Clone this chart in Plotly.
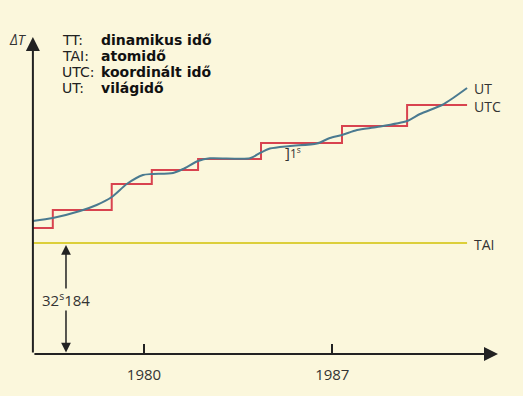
import plotly.graph_objects as go

# ---- data (years on x, arbitrary ΔT units on y) ----
utc_step_years = [1975.87, 1976.61, 1978.80, 1980.29, 1982.01, 1984.35, 1987.36, 1989.78, 1992.01]
utc_levels = [12.6, 14.4, 17.0, 18.4, 19.5, 21.1, 22.8, 24.9, 24.9]

ut_years = [1975.87, 1976.61, 1977.62, 1978.24, 1978.80, 1979.36, 1979.96, 1980.30, 1981.08,
            1981.45, 1982.01, 1982.45, 1983.94, 1984.31, 1984.68, 1985.43, 1986.43, 1986.91,
            1987.36, 1987.92, 1988.66, 1989.78, 1990.26, 1991.08, 1991.49, 1992.01]
ut_values = [13.3, 13.6, 14.3, 14.9, 15.7, 17.0, 17.9, 18.0, 18.1,
             18.5, 19.3, 19.57, 19.57, 20.1, 20.55, 20.8, 21.05, 21.6,
             21.9, 22.4, 22.7, 23.3, 24.0, 24.9, 25.6, 26.6]

tai_years = [1975.87, 1992.01]
tai_value = 11.1

tick_years = [1980, 1987]
tick_labels = ["1980", "1987"]

legend_abbr = ["TT:", "TAI:", "UTC:", "UT:"]
legend_desc = ["dinamikus idő", "atomidő", "koordinált idő", "világidő"]

BG = "#FBF7DC"
RED = "#D8434F"
BLUE = "#4A7A90"
YELLOW = "#DCCF3A"
INK = "#222222"

x_origin = utc_step_years[0]
x_end = 1993.16
y_top = 31.7

fig = go.Figure()
fig.add_trace(go.Scatter(x=tai_years, y=[tai_value] * len(tai_years), mode="lines",
                         line=dict(color=YELLOW, width=2), hoverinfo="skip"))
fig.add_trace(go.Scatter(x=utc_step_years, y=utc_levels, mode="lines",
                         line=dict(color=RED, width=2, shape="hv"), hoverinfo="skip"))
fig.add_trace(go.Scatter(x=ut_years, y=ut_values, mode="lines",
                         line=dict(color=BLUE, width=2, shape="spline", smoothing=0.7),
                         hoverinfo="skip"))

W, H_plot = 523, 354
ann = []
# axes arrows
ann.append(dict(x=x_end, y=0, ax=x_origin, ay=0, xref="x", yref="y", axref="x", ayref="y",
                text="", showarrow=True, arrowhead=2, arrowsize=1.4, arrowwidth=2, arrowcolor=INK))
ann.append(dict(x=x_origin, y=y_top, ax=x_origin, ay=0, xref="x", yref="y", axref="x", ayref="y",
                text="", showarrow=True, arrowhead=2, arrowsize=1.4, arrowwidth=2, arrowcolor=INK))
# 32.184 double arrow
arr_x = 1977.10
ann.append(dict(x=arr_x, y=tai_value - 0.2, ax=arr_x, ay=0, xref="x", yref="y", axref="x", ayref="y",
                text="", showarrow=True, arrowhead=2, startarrowhead=2, arrowside="end+start",
                arrowsize=1.3, startarrowsize=1.3, arrowwidth=1.5, arrowcolor=INK))
ann.append(dict(x=arr_x, y=5.5, xref="x", yref="y", text="32<sup>s</sup>184", showarrow=False,
                font=dict(family="Open Sans", size=15, color="#333"), bgcolor=BG, borderpad=0))
# axis labels
ann.append(dict(x=18 / W, y=1 - 40 / H_plot, xref="paper", yref="paper", text="<i>ΔT</i>",
                showarrow=False, xanchor="center", yanchor="middle",
                font=dict(family="Open Sans", size=14, color="#333")))
ann.append(dict(x=x_end - 0.1, y=-1.9, xref="x", yref="y", text="<i>TT</i>", showarrow=False,
                font=dict(family="Open Sans", size=15, color="#333")))
# series labels
ann.append(dict(x=1992.2, y=26.6, xref="x", yref="y", text="UT", showarrow=False, xanchor="left",
                font=dict(family="Open Sans", size=14, color="#333")))
ann.append(dict(x=1992.2, y=24.8, xref="x", yref="y", text="UTC", showarrow=False, xanchor="left",
                font=dict(family="Open Sans", size=14, color="#333")))
ann.append(dict(x=1992.2, y=tai_value - 0.15, xref="x", yref="y", text="TAI", showarrow=False,
                xanchor="left", font=dict(family="Open Sans", size=14, color="#333")))
ann.append(dict(x=1985.55, y=20.2, xref="x", yref="y", text="<span style='font-size:15px'>]</span>1<sup>s</sup>",
                showarrow=False, font=dict(family="Open Sans", size=12, color="#333")))

# legend block
for i, (a, d) in enumerate(zip(legend_abbr, legend_desc)):
    ypx = 40 + i * 16
    ann.append(dict(x=60 / W, y=1 - ypx / H_plot, xref="paper", yref="paper", text=a,
                    showarrow=False, xanchor="left", yanchor="middle",
                    font=dict(family="DejaVu Sans", size=14, color="#222")))
    ann.append(dict(x=99 / W, y=1 - ypx / H_plot, xref="paper", yref="paper", text=d,
                    showarrow=False, xanchor="left", yanchor="middle",
                    font=dict(family="DejaVu Sans", size=14, color="#111", weight="bold")))

fig.update_layout(annotations=ann)

fig.update_layout(
    width=523, height=396,
    margin=dict(l=0, r=0, t=0, b=42, pad=0),
    paper_bgcolor=BG, plot_bgcolor=BG,
    showlegend=False,
    xaxis=dict(range=[1974.647, 1994.089], showgrid=False, zeroline=False, showline=False,
               tickvals=tick_years, ticktext=tick_labels, ticks="inside", ticklen=10,
               tickwidth=1.5, tickcolor=INK, ticklabelstandoff=10,
               tickfont=dict(family="Open Sans", size=15, color="#333")),
    yaxis=dict(range=[0, 35.4], showgrid=False, zeroline=False, showline=False,
               showticklabels=False, ticks=""),
)

fig.write_html("out.html", config={"displayModeBar": False},
               post_script="document.body.style.margin='0';document.body.style.background='" + BG + "';")
